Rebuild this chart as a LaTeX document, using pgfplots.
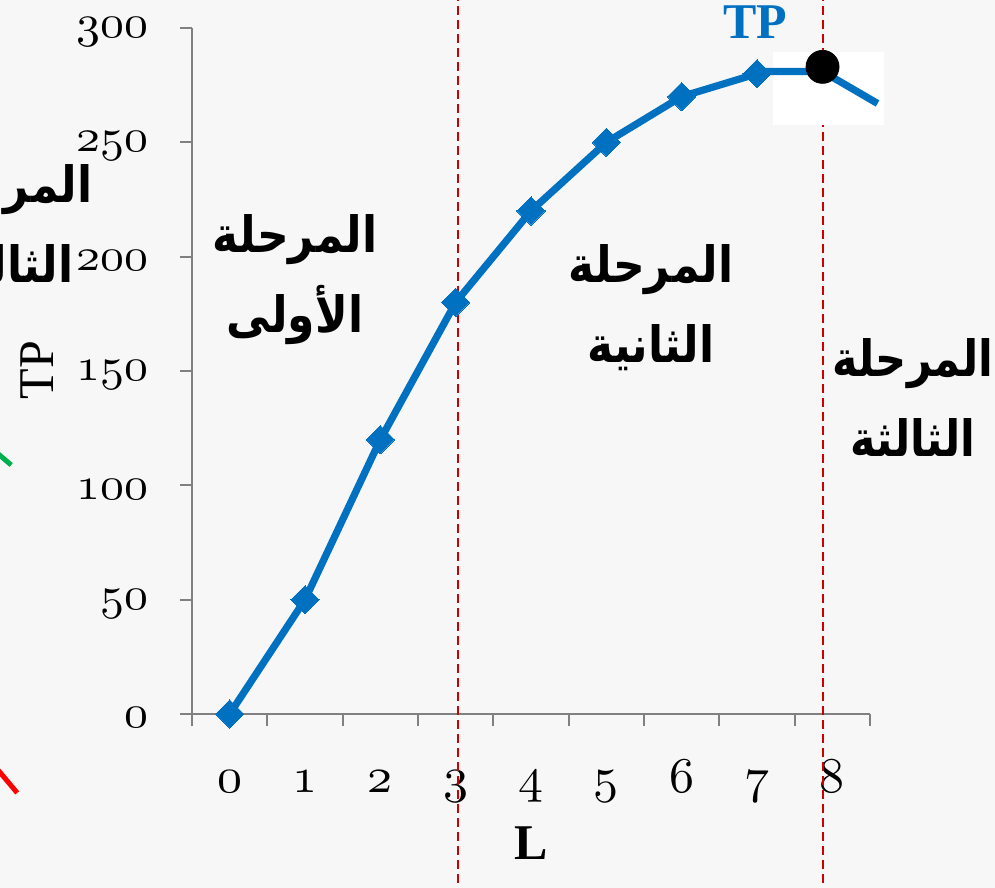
\documentclass[border=0pt]{standalone}
\usepackage{fontspec}
\setmainfont{Liberation Serif}
\newfontfamily\arabicfont[Script=Arabic]{DejaVu Sans}
\TeXXeTstate=1
\DeclareFontShape{OML}{cmm}{m}{it}{<->cmmi10}{}
\usepackage{graphicx}
\usepackage{pgfplots}
\pgfplotsset{compat=1.18}
\definecolor{tpblue}{RGB}{0,112,192}
\definecolor{axgray}{RGB}{128,128,128}
\definecolor{bgc}{RGB}{247,247,247}
\definecolor{stagered}{RGB}{204,0,0}
\definecolor{stubgreen}{RGB}{0,176,80}
\definecolor{stubred}{RGB}{255,0,0}
\newcommand{\osf}[1]{$\mathnormal{#1}$}
\newcommand{\ys}[1]{\scalebox{1.04}[1]{\osf{#1}}}
\newcommand{\ar}[1]{\beginR #1\endR}
\begin{document}
\begin{tikzpicture}
\useasboundingbox (-96pt,-87pt) rectangle (401.5pt,357pt);
\clip (-96pt,-87pt) rectangle (401.5pt,357pt);
\fill[bgc] (-96pt,-87pt) rectangle (401.5pt,357pt);
\begin{axis}[
  at={(0pt,0pt)}, anchor=south west,
  width=339pt, height=343pt, scale only axis,
  xmin=-0.5, xmax=8.5, ymin=0, ymax=300,
  clip=false,
  axis x line*=bottom, axis y line*=left,
  axis line style={draw=axgray, line width=1pt, -},
  tick align=outside,
  major tick length=6pt,
  tick style={draw=axgray, line width=1pt},
  xtick={-0.5,0.5,1.5,2.5,3.5,4.5,5.5,6.5,7.5,8.5},
  xticklabels={},
  extra x ticks={0,1,2,3,4,5,6,7,8},
  extra x tick labels={\osf{0},\osf{1},\osf{2},\osf{3},\osf{4},\osf{5},\osf{6},\osf{7},\osf{8}},
  extra x tick style={major tick length=0pt},
  xticklabel style={anchor=base, yshift=-39pt, font=\fontsize{25}{25}\selectfont},
  ytick={0,50,100,150,200,250,300},
  yticklabels={\ys{0},\ys{50},\ys{100},\ys{150},\ys{200},\ys{250},\ys{300}},
  yticklabel style={anchor=east, xshift=-12.5pt, yshift=-2pt, font=\fontsize{23}{23}\selectfont},
]
% stage boundaries
\addplot[stagered, line width=1pt, dash pattern=on 4.5pt off 2.5pt] coordinates {(3.03,-80) (3.03,320)};
\addplot[stagered, line width=1pt, dash pattern=on 4.5pt off 2.5pt] coordinates {(7.87,-80) (7.87,320)};
% TP curve
\addplot[tpblue, line width=3.6pt, mark=square*, mark size=5pt,
  mark options={rotate=45, fill=tpblue, draw=tpblue, line width=0pt, solid}]
  coordinates {(0,0) (1,50) (2,120) (3,180) (4,220) (5,250) (6,270) (7,280)};
\fill[white] (axis cs:7.21,257.5) rectangle (axis cs:8.68,289.5);
\addplot[tpblue, line width=3.6pt] coordinates {(7,281) (7.87,281) (8.6,267)};
\addplot[only marks, mark=*, mark size=8.25pt, black] coordinates {(7.87,283)};
% fragments of neighbouring curves
\addplot[stubgreen, line width=2.5pt] coordinates {(-3.1,114.5) (-2.90,108.9)};
\addplot[stubred, line width=2.5pt] coordinates {(-3.1,-23.5) (-2.82,-34.5)};
\end{axis}
\node[font=\fontsize{25}{25}\selectfont\bfseries, text=tpblue] at (281.5pt,346pt) {TP};
\node[font=\fontsize{25}{25}\selectfont, rotate=90] at (-77.5pt,172pt) {TP};
\node[font=\fontsize{25}{25}\selectfont\bfseries] at (169.5pt,-64.5pt) {L};
\begin{scope}[every node/.style={font=\arabicfont\bfseries\fontsize{25}{40}\selectfont, align=center, xscale=0.88, transform shape}]
\node at (51.5pt,217pt) {\ar{المرحلة}\\\ar{الأولى}};
\node at (229.5pt,203pt) {\ar{المرحلة}\\\ar{الثانية}};
\node[xscale=0.98] at (360.5pt,158pt) {\ar{المرحلة}\\\ar{الثالثة}};
\node at (-91pt,245pt) {\ar{المرحلة}\\\ar{الثالثة}};
\end{scope}
\end{tikzpicture}
\end{document}
